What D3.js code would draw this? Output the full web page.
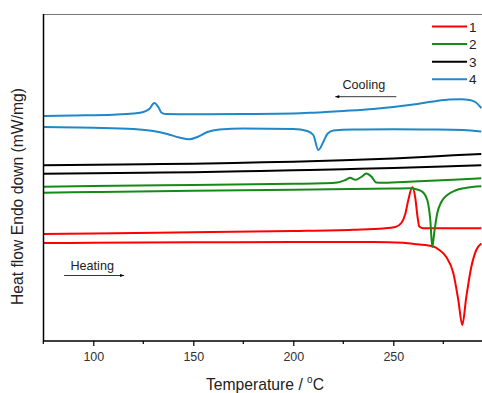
<!DOCTYPE html>
<html>
<head>
<meta charset="utf-8">
<script src="https://cdn.jsdelivr.net/npm/d3@7"></script>
<style>
	body { margin: 0; background: #fff; }
	text { font-family: "Liberation Sans", Arial, sans-serif; }
</style>
</head>
<body>
<div id="chart"></div>
<script>
// DSC traces, temperature in degC, heat flow (offset, mW/mg)
let t1_cool = [75, 100, 150, 200, 230, 245, 251, 254, 256, 257.5, 259.5, 261, 262, 263, 265, 280, 294];
let v1_cool = [10.7, 10.75, 10.87, 11.0, 11.13, 11.25, 11.4, 11.8, 12.7, 14.1, 15.37, 14.3, 12.6, 11.45, 11.27, 11.27, 11.27];
let t1_heat = [75, 100, 150, 200, 240, 255, 262, 270, 273, 276.5, 280, 282.5, 284.5, 286.5, 289, 291.5, 294];
let v1_heat = [9.8, 9.82, 9.87, 9.9, 9.9, 9.82, 9.67, 9.45, 9.1, 8.4, 6.8, 4.1, 1.6, 4.4, 7.4, 9.1, 9.75];

let t2_cool = [75, 100, 150, 200, 215, 222, 226, 228.5, 231, 234, 236.5, 239, 241.5, 245, 260, 280, 294];
let v2_cool = [15.43, 15.5, 15.6, 15.72, 15.77, 15.85, 16.1, 16.32, 16.12, 16.4, 16.75, 16.45, 15.85, 15.83, 15.95, 16.13, 16.27];
let t2_heat = [75, 100, 150, 200, 250, 258, 262, 265, 267, 268.5, 269.5, 270.5, 272, 274, 277, 281, 286, 294];
let v2_heat = [14.83, 14.9, 15.02, 15.13, 15.25, 15.27, 15.15, 14.85, 14.1, 12.1, 9.4, 10.9, 12.8, 13.9, 14.6, 15.05, 15.3, 15.47];

let t3_cool = [75, 125, 150, 175, 200, 225, 250, 265, 280, 294];
let v3_cool = [17.57, 17.67, 17.73, 17.83, 17.93, 18.07, 18.25, 18.4, 18.57, 18.7];
let t3_heat = [75, 125, 150, 175, 200, 225, 250, 275, 294];
let v3_heat = [16.73, 16.82, 16.88, 16.97, 17.07, 17.18, 17.3, 17.45, 17.57];

let t4_cool = [75, 90, 110, 120, 125, 128, 130.5, 132.5, 134, 136, 150, 175, 200, 210, 225, 240, 250, 260, 270, 278, 284, 288, 291, 294];
let v4_cool = [22.5, 22.55, 22.63, 22.75, 22.9, 23.2, 23.8, 23.4, 22.85, 22.7, 22.67, 22.7, 22.75, 22.83, 23.0, 23.2, 23.4, 23.65, 23.95, 24.15, 24.17, 24.1, 23.9, 23.3];
let t4_heat = [75, 100, 120, 130, 137, 143, 148, 152, 157, 163, 175, 200, 207, 210, 212.5, 215, 217, 220, 230, 250, 270, 285, 294];
let v4_heat = [21.4, 21.33, 21.2, 21.0, 20.7, 20.35, 20.17, 20.4, 20.9, 21.15, 21.25, 21.2, 21.0, 20.6, 19.1, 19.9, 20.7, 21.05, 21.15, 21.17, 21.15, 21.1, 20.95];

let seriesNames = ["1", "2", "3", "4"];
let seriesColors = ["#ff0000", "#168a16", "#000000", "#1e88c8"];
let xTicks = [100, 150, 200, 250];
let xMinorTicks = [75, 125, 175, 225, 275];

let traces = [
	{s: 0, t: t1_cool, v: v1_cool}, {s: 0, t: t1_heat, v: v1_heat},
	{s: 1, t: t2_cool, v: v2_cool}, {s: 1, t: t2_heat, v: v2_heat},
	{s: 2, t: t3_cool, v: v3_cool}, {s: 2, t: t3_heat, v: v3_heat},
	{s: 3, t: t4_cool, v: v4_cool}, {s: 3, t: t4_heat, v: v4_heat}
];

let W = 482, H = 393;
let margin = {top: 14, right: 0, bottom: 52, left: 43};

let svg = d3.select("#chart").append("svg")
	.attr("width", W)
	.attr("height", H);

let xScale = d3.scaleLinear()
	.domain([75, 295])
	.range([43.3, 483.3]);

let yScale = d3.scaleLinear()
	.domain([0, 32.7])
	.range([H - margin.bottom, margin.top]);

svg.append("clipPath")
	.attr("id", "clip")
	.append("rect")
	.attr("x", margin.left)
	.attr("y", margin.top)
	.attr("width", W - margin.left)
	.attr("height", H - margin.bottom - margin.top);

let line = d3.line()
	.x(d => xScale(d[0]))
	.y(d => yScale(d[1]))
	.curve(d3.curveMonotoneX);

svg.append("g")
	.attr("clip-path", "url(#clip)")
	.selectAll("path")
	.data(traces)
	.enter()
	.append("path")
	.attr("d", d => line(d.t.map((t, i) => [t, d.v[i]])))
	.attr("fill", "none")
	.attr("stroke", d => seriesColors[d.s])
	.attr("stroke-width", 2)
	.attr("stroke-linejoin", "round");

// top frame
svg.append("line")
	.attr("x1", margin.left).attr("x2", W)
	.attr("y1", margin.top + 0.5).attr("y2", margin.top + 0.5)
	.attr("stroke", "#777")
	.attr("stroke-width", 1.2);

// left axis (no ticks)
svg.append("line")
	.attr("x1", margin.left + 0.5).attr("x2", margin.left + 0.5)
	.attr("y1", margin.top).attr("y2", H - margin.bottom + 0.5)
	.attr("stroke", "#000")
	.attr("stroke-width", 1.5);

// bottom axis
let xAxis = d3.axisBottom(xScale)
	.tickValues(xTicks)
	.tickSize(5)
	.tickPadding(6)
	.tickFormat(d3.format("d"));

let gx = svg.append("g")
	.attr("transform", "translate(0," + (H - margin.bottom) + ")")
	.call(xAxis);
gx.select(".domain").attr("stroke-width", 1.5).attr("d", "M" + margin.left + ",0H" + W);
gx.selectAll(".tick line").attr("stroke-width", 1.2);
gx.selectAll(".tick text")
	.attr("font-size", 12.5)
	.attr("fill", "#333")
	.style("font-family", "'Liberation Sans', Arial, sans-serif");

gx.selectAll(".minor")
	.data(xMinorTicks)
	.enter()
	.append("line")
	.attr("class", "minor")
	.attr("x1", d => xScale(d)).attr("x2", d => xScale(d))
	.attr("y1", 0).attr("y2", 3)
	.attr("stroke", "#000")
	.attr("stroke-width", 1.2);

// axis titles
let xt = svg.append("text")
	.attr("x", 265)
	.attr("y", 390)
	.attr("text-anchor", "middle")
	.attr("font-size", 15.7)
	.attr("fill", "#222")
	.text("Temperature / ");
xt.append("tspan").attr("font-size", 10).attr("dy", -7).text("o");
xt.append("tspan").attr("dy", 7).text("C");

svg.append("text")
	.attr("transform", "translate(22.5,196.5)rotate(-90)")
	.attr("text-anchor", "middle")
	.attr("font-size", 15.7)
	.attr("fill", "#222")
	.text("Heat flow Endo down (mW/mg)");

// legend
let legend = svg.append("g").selectAll("g")
	.data(seriesNames)
	.enter()
	.append("g")
	.attr("transform", (d, i) => "translate(432," + (26.5 + i * 17.6) + ")");
legend.append("line")
	.attr("x1", 0).attr("x2", 35)
	.attr("stroke", (d, i) => seriesColors[i])
	.attr("stroke-width", 2);
legend.append("text")
	.attr("x", 37)
	.attr("y", 5)
	.attr("font-size", 13.5)
	.attr("fill", "#222")
	.text(d => d);

// annotations
svg.append("defs").append("marker")
	.attr("id", "arrow")
	.attr("viewBox", "0 0 10 10")
	.attr("refX", 10).attr("refY", 5)
	.attr("markerWidth", 6).attr("markerHeight", 5)
	.attr("orient", "auto")
	.append("path")
	.attr("d", "M0,1L10,5L0,9Z")
	.attr("fill", "#000");

svg.append("text")
	.attr("x", 342.5).attr("y", 89.3)
	.attr("font-size", 12.6)
	.attr("fill", "#222")
	.text("Cooling");
svg.append("line")
	.attr("x1", xScale(251.5)).attr("x2", xScale(221))
	.attr("y1", 96.7).attr("y2", 96.7)
	.attr("stroke", "#000").attr("stroke-width", 0.8)
	.attr("marker-end", "url(#arrow)");

svg.append("text")
	.attr("x", 70.5).attr("y", 270)
	.attr("font-size", 12.6)
	.attr("fill", "#222")
	.text("Heating");
svg.append("line")
	.attr("x1", xScale(85.4)).attr("x2", xScale(115.4))
	.attr("y1", 275.5).attr("y2", 275.5)
	.attr("stroke", "#000").attr("stroke-width", 0.8)
	.attr("marker-end", "url(#arrow)");
</script>
</body>
</html>
